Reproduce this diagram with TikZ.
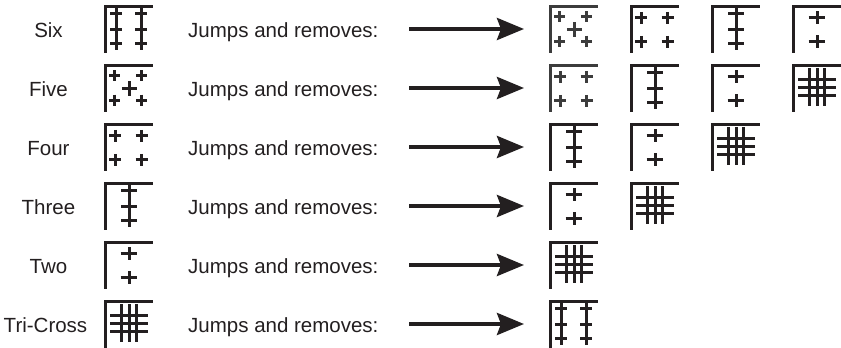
\documentclass[tikz,border=0pt]{standalone}
\usepackage{fontspec}
\setmainfont{Liberation Sans}
\usetikzlibrary{arrows.meta}
\definecolor{ink}{HTML}{231F20}
\definecolor{soft}{HTML}{3C3C3C}
\newcommand\gcross[4]{\draw ({#1-#3},#2) -- ({#1+#3},#2) (#1,{#2-#4}) -- (#1,{#2+#4});}
\tikzset{
  glyph/.style={line width=3pt, line cap=butt},
  gframe/.style={line width=3.3pt, line join=miter, line cap=butt},
  fr/.pic={\draw[gframe] (1.65,47.5) -- (1.65,1.65) -- (48.5,1.65);},
  six/.pic={\pic{fr};
    \begin{scope}[glyph]
      \draw (12.4,3) -- (12.4,45) (37.4,3) -- (37.4,45);
      \foreach \yy in {8.5,24.5,38.5}{\draw (6.4,\yy) -- (18.4,\yy) (31.4,\yy) -- (43.4,\yy);}
    \end{scope}},
  five/.pic={\pic{fr};
    \begin{scope}[glyph]
      \gcross{10.5}{11.5}{5.5}{5.5}
      \gcross{37.7}{11.5}{5.5}{5.5}
      \gcross{25.3}{24.8}{7.5}{7.5}
      \gcross{10.5}{36.2}{5.5}{5.5}
      \gcross{37.7}{36.2}{5.5}{5.5}
    \end{scope}},
  four/.pic={\pic{fr};
    \begin{scope}[glyph]
      \gcross{11}{12.7}{6}{5.8}
      \gcross{37.7}{12.7}{6}{5.8}
      \gcross{11}{36.7}{6}{5.8}
      \gcross{37.7}{36.7}{6}{5.8}
    \end{scope}},
  three/.pic={\pic{fr};
    \begin{scope}[glyph]
      \draw (25,3) -- (25,45);
      \foreach \yy in {8.5,24.5,38.5}{\draw (17,\yy) -- (33,\yy);}
    \end{scope}},
  two/.pic={\pic{fr};
    \begin{scope}[glyph]
      \gcross{25}{12.3}{8.3}{6.3}
      \gcross{25}{36.3}{8.3}{6.3}
    \end{scope}},
  tri/.pic={\pic{fr};
    \begin{scope}[glyph]
      \foreach \xx in {17.6,25,32.2}{\draw (\xx,4.3) -- (\xx,42.3);}
      \foreach \yy in {15.5,23.8,31}{\draw (6,\yy) -- (44.3,\yy);}
    \end{scope}},
  lbl/.style={inner sep=0pt, anchor=base, text=ink, font=\fontsize{20.5}{24}\selectfont},
  jr/.style={inner sep=0pt, anchor=base west, text=ink, font=\fontsize{20.5}{24}\selectfont},
  jump/.style={draw=ink, line width=4pt, -{Stealth[length=27pt,width=22pt,inset=4pt]}},
}
\begin{document}
\begin{tikzpicture}[x=1pt, y=-1pt, color=ink]
\useasboundingbox (0,0) rectangle (841,348);

% Row 1: Six
\node[lbl] (l1) at (48.5,37) {Six};
\pic (g10) at (104,5) {six};
\node[jr] (j1) at (188,37) {Jumps and removes:};
\coordinate (s1) at (409,29); \coordinate (e1) at (524,29);
\draw[jump] (s1) -- (e1);
\pic[color=soft] (g11) at (549,5) {five};
\pic (g12) at (630,5) {four};
\pic (g13) at (711,5) {three};
\pic (g14) at (792,5) {two};

% Row 2: Five
\node[lbl] (l2) at (48.5,96) {Five};
\pic (g20) at (104,64) {five};
\node[jr] (j2) at (188,96) {Jumps and removes:};
\coordinate (s2) at (409,88); \coordinate (e2) at (524,88);
\draw[jump] (s2) -- (e2);
\pic[color=soft] (g21) at (549,64) {four};
\pic (g22) at (630,64) {three};
\pic (g23) at (711,64) {two};
\pic (g24) at (792,64) {tri};

% Row 3: Four
\node[lbl] (l3) at (48.5,155) {Four};
\pic (g30) at (104,123) {four};
\node[jr] (j3) at (188,155) {Jumps and removes:};
\coordinate (s3) at (409,147); \coordinate (e3) at (524,147);
\draw[jump] (s3) -- (e3);
\pic (g31) at (549,123) {three};
\pic (g32) at (630,123) {two};
\pic (g33) at (711,123) {tri};

% Row 4: Three
\node[lbl] (l4) at (48.5,214) {Three};
\pic (g40) at (104,182) {three};
\node[jr] (j4) at (188,214) {Jumps and removes:};
\coordinate (s4) at (409,206); \coordinate (e4) at (524,206);
\draw[jump] (s4) -- (e4);
\pic (g41) at (549,182) {two};
\pic (g42) at (630,182) {tri};

% Row 5: Two
\node[lbl] (l5) at (48.5,273) {Two};
\pic (g50) at (104,241) {two};
\node[jr] (j5) at (188,273) {Jumps and removes:};
\coordinate (s5) at (409,265); \coordinate (e5) at (524,265);
\draw[jump] (s5) -- (e5);
\pic (g51) at (549,241) {tri};

% Row 6: Tri-Cross
\node[lbl] (l6) at (45.5,332) {Tri-Cross};
\pic (g60) at (104,300) {tri};
\node[jr] (j6) at (188,332) {Jumps and removes:};
\coordinate (s6) at (409,324); \coordinate (e6) at (524,324);
\draw[jump] (s6) -- (e6);
\pic (g61) at (549,300) {six};
\end{tikzpicture}
\end{document}
